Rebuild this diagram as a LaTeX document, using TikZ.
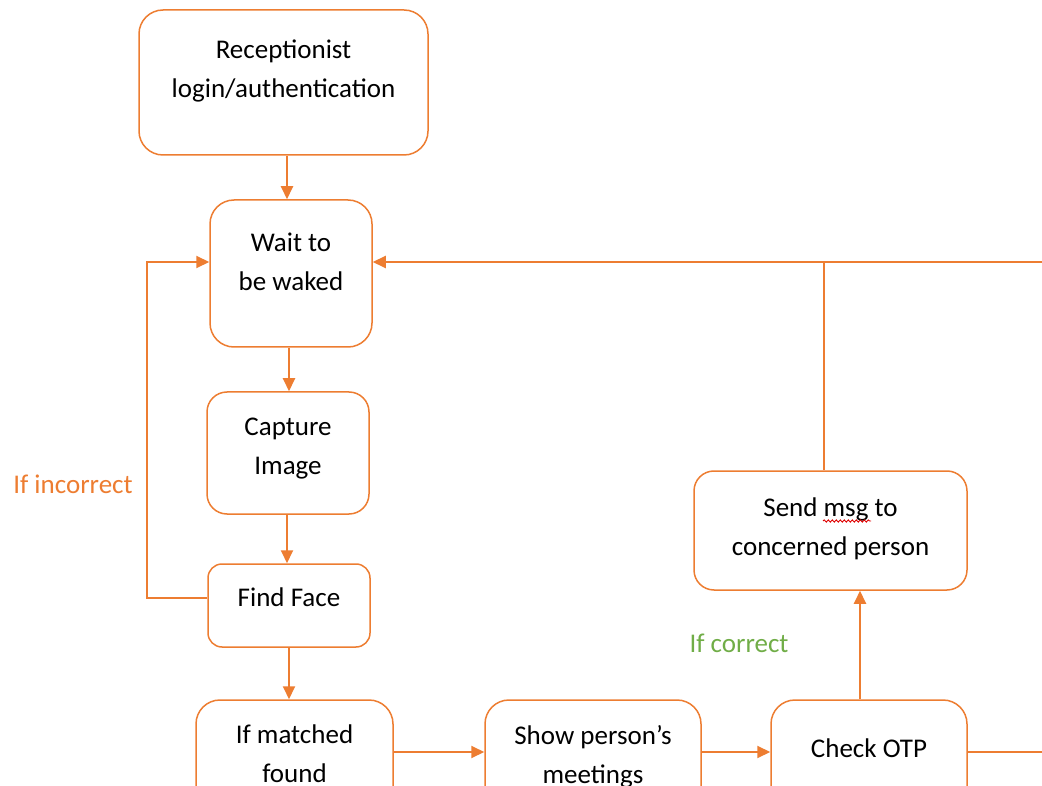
\documentclass[tikz,border=0pt]{standalone}
\usepackage{fontspec}
\setmainfont{Carlito}
\usetikzlibrary{arrows.meta,calc,decorations.pathmorphing}
\definecolor{orng}{HTML}{ED7D31}
\definecolor{grn}{HTML}{70AD47}
\definecolor{spellred}{HTML}{E00000}
\begin{document}
\begin{tikzpicture}[x=1pt,y=-1pt,
  box/.style={draw=orng, line width=1.5pt, fill=white, inner sep=0pt},
  txt/.style={font=\fontsize{27}{39}\selectfont, align=center, inner sep=0pt, text=black},
  arr/.style={draw=orng, line width=2pt, -{Triangle[length=13pt,width=12pt]}},
  ln/.style={draw=orng, line width=2pt},
  squiggle/.style={draw=spellred, line width=0.9pt, decorate, decoration={snake, amplitude=1.1pt, segment length=4pt}}]
\useasboundingbox (0,0) rectangle (1042,786);
\begin{scope}
\clip (0,0) rectangle (1042,786);
% boxes
\node[box, minimum width=289pt, minimum height=145pt, rounded corners=24pt] (b1) at (283.5,82.5) {};
\node[box, minimum width=162pt, minimum height=147pt, rounded corners=24pt] (b2) at (291,273.5) {};
\node[box, minimum width=162pt, minimum height=122pt, rounded corners=20pt] (b3) at (288,453) {};
\node[box, minimum width=162pt, minimum height=83pt, rounded corners=14pt] (b4) at (289,605.5) {};
\node[box, minimum width=197pt, minimum height=147pt, rounded corners=24pt] (b5) at (294.5,773.5) {};
\node[box, minimum width=216pt, minimum height=147pt, rounded corners=24pt] (b6) at (593,773.5) {};
\node[box, minimum width=196pt, minimum height=147pt, rounded corners=24pt] (b7) at (869,773.5) {};
\node[box, minimum width=273pt, minimum height=119pt, rounded corners=20pt] (b8) at (830.5,530.5) {};
% texts
\node[txt] (t1) at (283.5,70.75) {Receptionist\\login/authentication};
\node[txt] (t2) at (291,262) {Wait to\\be waked};
\node[txt] (t3) at (288,448.75) {Capture\\Image};
\node[txt, anchor=base] (t4) at (289,606) {Find Face};
\node[txt] (t5) at (294.5,753.75) {If matched\\found};
\node[txt] (t6) at (593,756.75) {Show person’s\\meetings};
\node[txt, anchor=base] (t7) at (869,757) {Check OTP};
\node[txt] (t8) at (830.5,528.75) {Send msg to\\concerned person};
% labels
\node[txt, text=orng, anchor=base] (l1) at (73,493) {If incorrect};
\node[txt, text=grn, anchor=base] (l2) at (739,652) {If correct};
% spell-check squiggle under "msg"
\coordinate (sq1) at (823,521);
\coordinate (sq2) at (871,521);
\draw[squiggle] (sq1) -- (sq2);
% helper coordinates
\coordinate (c1) at (287,0);
\coordinate (c2) at (289,0);
\coordinate (lx) at (147,0);
\coordinate (jx) at (824,0);
\coordinate (kx) at (860,0);
\coordinate (r0) at (0,262);
\coordinate (r1) at (0,598);
\coordinate (r2) at (0,752);
\coordinate (re) at (1042,262);
\coordinate (rb) at (1042,752);
% connectors
\draw[arr] (b1.south -| c1) -- (b2.north -| c1);
\draw[arr] (b2.south -| c2) -- (b3.north -| c2);
\draw[arr] (b3.south -| c1) -- (b4.north -| c1);
\draw[arr] (b4.south -| c2) -- (b5.north -| c2);
\draw[arr] (b4.west |- r1) -- (lx |- r1) -- (lx |- r0) -- (b2.west |- r0);
\draw[arr] (re) -- (b2.east |- r0);
\draw[ln] (b8.north -| jx) -- (jx |- r0);
\draw[arr] (b5.east |- r2) -- (b6.west |- r2);
\draw[arr] (b6.east |- r2) -- (b7.west |- r2);
\draw[ln] (b7.east |- r2) -- (rb);
\draw[arr] (b7.north -| kx) -- (b8.south -| kx);
\end{scope}
\end{tikzpicture}
\end{document}
